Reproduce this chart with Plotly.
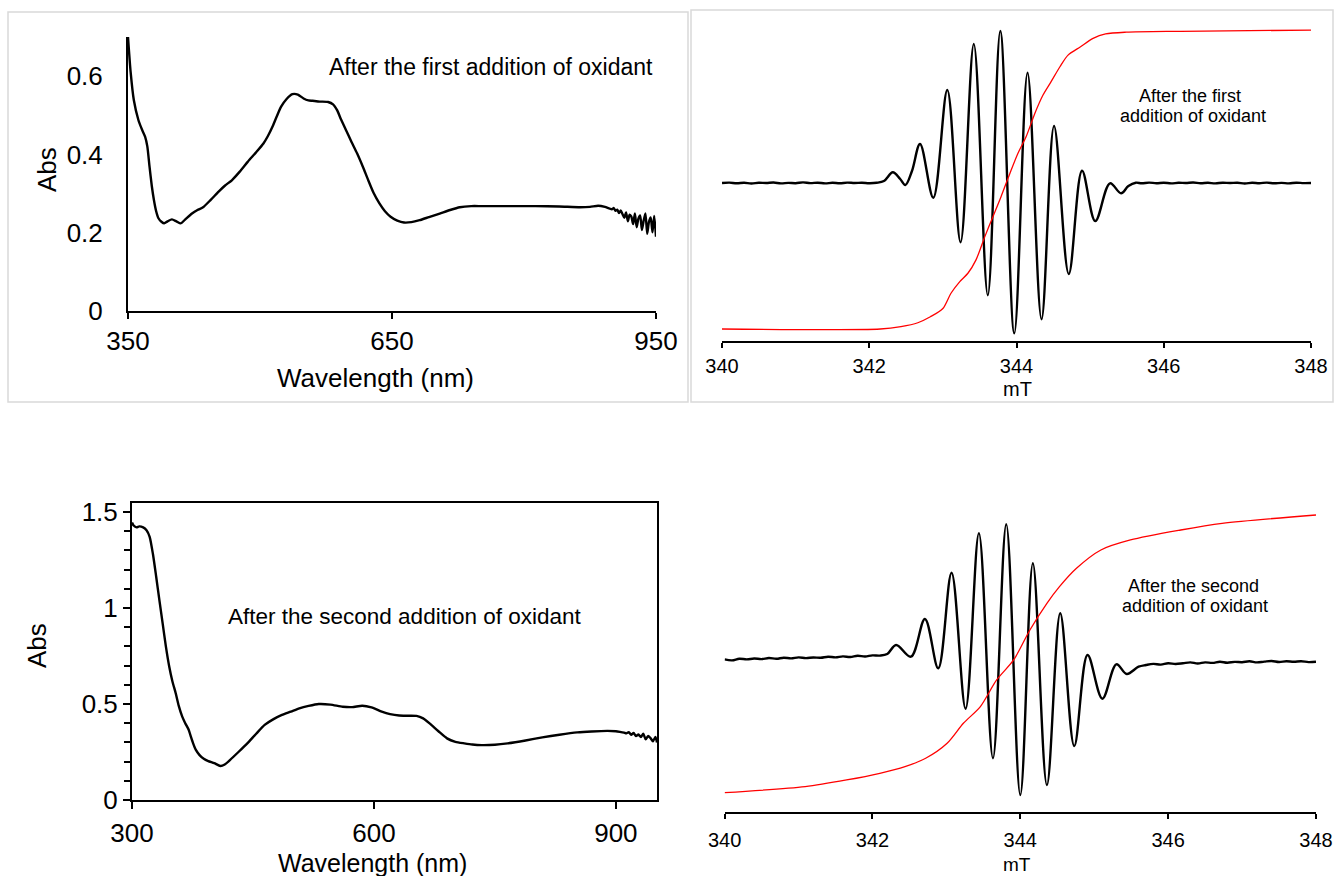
import plotly.graph_objects as go

W, H = 1334, 876

# ---------------- UV-vis, first addition ----------------
uv1_wl = [350, 353, 356.6, 361.8, 366, 369.5, 372, 374.5, 377, 379.5, 382, 384.6, 388, 391.2,
          395, 399.9, 405, 410, 416, 422.7, 429, 435.3, 444, 453, 460, 468, 477, 486, 495,
          503.9, 509, 514, 519, 524, 530, 536.8, 543, 549.5, 555, 559.7, 568, 577.4, 583,
          587.6, 592, 597.8, 604, 610.3, 617, 623, 629, 635.7, 642, 648.4, 656, 663.6, 672,
          681.4, 692, 704.2, 716, 727, 740, 752, 780, 813, 840, 863.7, 875, 884.3, 892, 899.8,
          902, 904, 906, 908, 910, 912, 914, 916, 918, 920, 922, 924, 926, 928, 930, 932, 934,
          936, 938, 940, 942, 944, 946, 948, 950]
uv1_abs = [0.700, 0.610, 0.539, 0.488, 0.463, 0.445, 0.420, 0.368, 0.320, 0.283, 0.255, 0.237,
           0.228, 0.224, 0.229, 0.234, 0.229, 0.224, 0.236, 0.249, 0.258, 0.265, 0.284, 0.305,
           0.320, 0.334, 0.356, 0.381, 0.404, 0.428, 0.447, 0.470, 0.497, 0.522, 0.541, 0.554,
           0.553, 0.543, 0.538, 0.537, 0.535, 0.534, 0.528, 0.513, 0.490, 0.462, 0.432, 0.403,
           0.368, 0.334, 0.302, 0.275, 0.255, 0.241, 0.231, 0.226, 0.227, 0.232, 0.240, 0.249,
           0.258, 0.265, 0.268, 0.268, 0.268, 0.268, 0.267, 0.265, 0.266, 0.269, 0.266, 0.260,
           0.263, 0.256, 0.259, 0.250, 0.257, 0.247, 0.238, 0.252, 0.229, 0.246, 0.241, 0.222,
           0.249, 0.214, 0.236, 0.244, 0.207, 0.231, 0.249, 0.197, 0.228, 0.239, 0.201, 0.243,
           0.190, 0.222, 0.205]

# ---------------- UV-vis, second addition ----------------
uv2_wl = [300, 302, 305.7, 309, 313.8, 318, 321.9, 326, 330, 334, 338, 342, 346.2, 350, 354.2,
          358, 362.3, 366, 370.4, 373, 375.8, 379, 383.8, 389, 394.6, 402, 409.6, 415, 421.4,
          432, 443, 454, 464.5, 475, 486, 497, 507.5, 519, 531.6, 546, 561.3, 573, 585.5, 597,
          609.7, 620, 631.3, 642, 652.8, 661, 669, 680, 690.6, 701, 712, 722, 733.6, 750, 765.8,
          788, 808.8, 830, 852, 870, 889.6, 900, 905, 910, 913, 916, 919, 922, 925, 928, 931,
          934, 937, 940, 943, 946, 949, 951]
uv2_abs = [1.445, 1.430, 1.420, 1.425, 1.420, 1.405, 1.371, 1.280, 1.163, 1.040, 0.920, 0.800,
           0.694, 0.620, 0.556, 0.490, 0.434, 0.400, 0.365, 0.330, 0.295, 0.262, 0.234, 0.215,
           0.203, 0.192, 0.177, 0.185, 0.208, 0.250, 0.295, 0.345, 0.391, 0.420, 0.443, 0.460,
           0.477, 0.490, 0.500, 0.497, 0.486, 0.484, 0.491, 0.482, 0.460, 0.447, 0.440, 0.439,
           0.438, 0.425, 0.399, 0.358, 0.321, 0.303, 0.295, 0.289, 0.286, 0.288, 0.295, 0.310,
           0.326, 0.340, 0.352, 0.357, 0.360, 0.358, 0.355, 0.351, 0.347, 0.353, 0.339, 0.349,
           0.333, 0.341, 0.328, 0.345, 0.316, 0.334, 0.322, 0.306, 0.329, 0.300]

# ---------------- EPR, first addition ----------------
epr1_field = [340.0, 340.1, 340.2, 340.3, 340.4, 340.5, 340.6, 340.7, 340.8, 340.9, 341.0, 341.1,
              341.2, 341.3, 341.4, 341.5, 341.6, 341.7, 341.8, 341.9, 342.0, 342.1, 342.2, 342.32,
              342.42, 342.49, 342.58, 342.69, 342.87, 343.06, 343.24, 343.42, 343.61, 343.78,
              343.97, 344.15, 344.34, 344.51, 344.71, 344.89, 345.07, 345.27, 345.42, 345.52,
              345.62, 345.7, 345.8, 345.9, 346.0, 346.1, 346.2, 346.3, 346.4, 346.5, 346.6,
              346.7, 346.8, 346.9, 347.0, 347.1, 347.2, 347.3, 347.4, 347.5, 347.6, 347.7, 347.8,
              347.9, 348.0]
epr1_signal = [0.0, 0.4, -0.3, 0.2, -0.5, 0.3, 0.0, 0.5, -0.4, 0.1, -0.2, 0.6, -0.1, 0.3, -0.4,
               0.2, -0.3, 0.4, 0.0, 0.3, -0.2, 0.2, 2.0, 10.7, 4.0, -2.0, 12.0, 39.0, -14.7, 93.0,
               -59.3, 139.0, -112.3, 152.0, -150.3, 110.3, -136.3, 57.0, -91.0, 12.3, -38.0, -0.3,
               -10.3, -3.0, 0.3, -0.3, 0.4, -0.2, 0.3, -0.4, 0.2, 0.0, 0.5, -0.3, 0.2, -0.4, 0.3,
               0.0, 0.3, -0.5, 0.2, -0.2, 0.4, -0.3, 0.1, -0.4, 0.3, -0.1, 0.0]
int1_field = [340.0, 342.15, 342.43, 342.66, 342.83, 343.0, 343.11, 343.23, 343.34, 343.45,
              343.57, 343.68, 343.79, 343.91, 344.02, 344.13, 344.25, 344.36, 344.47, 344.59,
              344.7, 344.87, 345.04, 345.21, 345.49, 346.23, 348.0]
int1_value = [0.0, 0.0, 0.008, 0.021, 0.041, 0.069, 0.12, 0.159, 0.187, 0.232, 0.31, 0.377, 0.444,
              0.522, 0.59, 0.645, 0.724, 0.785, 0.83, 0.88, 0.919, 0.947, 0.975, 0.99, 0.996,
              0.999, 1.003]

# ---------------- EPR, second addition ----------------
epr2_field = [340.0, 340.1, 340.2, 340.3, 340.4, 340.5, 340.6, 340.7, 340.8, 340.9, 341.0, 341.1,
              341.2, 341.3, 341.4, 341.5, 341.6, 341.7, 341.8, 341.9, 342.0, 342.1, 342.2, 342.32,
              342.52, 342.71, 342.89, 343.07, 343.26, 343.44, 343.63, 343.81, 344.0, 344.17,
              344.36, 344.54, 344.73, 344.91, 345.11, 345.3, 345.44, 345.6, 345.7, 345.8, 345.9,
              346.0, 346.1, 346.2, 346.3, 346.4, 346.5, 346.6, 346.7, 346.8, 346.9, 347.0, 347.1,
              347.2, 347.3, 347.4, 347.5, 347.6, 347.7, 347.8, 347.9, 348.0]
epr2_signal = [0.7, -0.4, 1.3, 0.6, 1.5, 0.9, 2.0, 1.2, 2.3, 1.6, 2.6, 1.9, 2.5, 2.2, 3.3, 2.6,
               3.6, 3.0, 4.2, 3.5, 4.6, 4.4, 6.0, 15.0, 3.3, 41.0, -8.3, 87.3, -48.7, 126.7, -98.3,
               135.7, -135.0, 96.7, -125.0, 46.7, -86.0, 5.0, -38.7, -4.3, -14.0, -6.7, -5.0, -3.9,
               -4.6, -3.2, -4.0, -3.3, -2.4, -3.5, -2.4, -2.9, -1.7, -2.7, -1.9, -2.2, -1.3, -2.4,
               -1.6, -1.0, -2.0, -1.3, -1.8, -1.2, -2.1, -1.7]
int2_field = [340.0, 341.09, 341.65, 342.1, 342.44, 342.72, 343.01, 343.23, 343.46, 343.68,
              343.91, 344.13, 344.36, 344.53, 344.76, 345.09, 345.49, 346.17, 346.73, 348.0]
int2_value = [0.0, 0.022, 0.046, 0.07, 0.094, 0.124, 0.178, 0.25, 0.31, 0.406, 0.478, 0.586,
              0.682, 0.742, 0.808, 0.874, 0.91, 0.946, 0.97, 1.0]

FONT = "Liberation Sans, Arial, sans-serif"


def fx(px):
    return px / W


def fy(py):
    return 1 - py / H


fig = go.Figure()

black = dict(color="black", width=2.4, shape="spline", smoothing=0.6)
epr_black = dict(color="black", width=2.4, shape="spline", smoothing=1.0)
red = dict(color="red", width=1.3, shape="spline", smoothing=0.8)

fig.add_trace(go.Scatter(x=uv1_wl, y=uv1_abs, mode="lines", line=black, xaxis="x", yaxis="y"))
fig.add_trace(go.Scatter(x=epr1_field, y=epr1_signal, mode="lines", line=epr_black,
                         xaxis="x2", yaxis="y2"))
fig.add_trace(go.Scatter(x=int1_field, y=int1_value, mode="lines", line=red,
                         xaxis="x2", yaxis="y3"))
fig.add_trace(go.Scatter(x=uv2_wl, y=uv2_abs, mode="lines", line=black, xaxis="x4", yaxis="y4"))
fig.add_trace(go.Scatter(x=epr2_field, y=epr2_signal, mode="lines", line=epr_black,
                         xaxis="x5", yaxis="y5"))
fig.add_trace(go.Scatter(x=int2_field, y=int2_value, mode="lines", line=red,
                         xaxis="x5", yaxis="y6"))

axis_common = dict(showgrid=False, zeroline=False, showline=True, linecolor="black",
                   tickcolor="black", color="black", automargin=False)

fig.update_layout(
    width=W, height=H, margin=dict(l=0, r=0, t=0, b=0, autoexpand=False),
    paper_bgcolor="white", plot_bgcolor="rgba(0,0,0,0)", showlegend=False,
    font=dict(family=FONT, color="black"),
    # top-left UV-vis
    xaxis=dict(**axis_common, domain=[fx(128), fx(656)], anchor="y", range=[350, 950],
               tickvals=[350, 650, 950], ticks="outside", ticklen=6, tickwidth=2, linewidth=2,
               tickfont=dict(size=26), ticklabelstandoff=0),
    yaxis=dict(**axis_common, domain=[fy(311), fy(37)], anchor="x", range=[0, 0.7],
               tickvals=[0, 0.2, 0.4, 0.6], ticktext=["0", "0.2", "0.4", "0.6"], ticks="",
               linewidth=2, tickfont=dict(size=26), ticklabelstandoff=18),
    # top-right EPR
    xaxis2=dict(**axis_common, domain=[fx(722), fx(1311)], anchor="y2", range=[340, 348],
                tickvals=[340, 342, 344, 346, 348], ticks="outside", ticklen=5, tickwidth=1.5,
                linewidth=1.5, tickfont=dict(size=20), ticklabelstandoff=1),
    yaxis2=dict(domain=[fy(341), fy(15)], anchor="x2", range=[-158, 168], visible=False,
                automargin=False),
    yaxis3=dict(domain=[fy(341), fy(15)], anchor="x2", overlaying="y2",
                range=[-12 / 298, 314 / 298], visible=False, automargin=False),
    # bottom-left UV-vis
    xaxis4=dict(**axis_common, domain=[fx(132), fx(657)], anchor="y4", range=[300, 951],
                tickvals=[300, 600, 900], ticks="outside", ticklen=7, tickwidth=2, linewidth=2,
                mirror=True, tickfont=dict(size=26), ticklabelstandoff=2),
    yaxis4=dict(**axis_common, domain=[fy(800), fy(503)], anchor="x4", range=[0, 1.547],
                tickvals=[0, 0.5, 1, 1.5], ticktext=["0", "0.5", "1", "1.5"], ticks="outside",
                ticklen=7, tickwidth=2, linewidth=2, mirror=True, tickfont=dict(size=26),
                minor=dict(dtick=0.1, ticks="outside", ticklen=6, tickwidth=2, tickcolor="black")),
    # bottom-right EPR
    xaxis5=dict(**axis_common, domain=[fx(724.6), fx(1316)], anchor="y5", range=[340, 348],
                tickvals=[340, 342, 344, 346, 348], ticks="outside", ticklen=5, tickwidth=1.5,
                linewidth=1.5, tickfont=dict(size=20), ticklabelstandoff=4),
    yaxis5=dict(domain=[fy(812), fy(495)], anchor="x5", range=[-152, 165], visible=False,
                automargin=False),
    yaxis6=dict(domain=[fy(812), fy(495)], anchor="x5", overlaying="y5",
                range=[-19.3 / 277.7, 297.7 / 277.7], visible=False, automargin=False),
)

# light frames around the two upper panels
frame = dict(type="rect", xref="paper", yref="paper", line=dict(color="#d9d9d9", width=1.5),
             fillcolor="rgba(0,0,0,0)", layer="below")
fig.add_shape(**frame, x0=fx(8), x1=fx(688), y0=fy(402), y1=fy(12))
fig.add_shape(**frame, x0=fx(691), x1=fx(1333), y0=fy(402), y1=fy(10))


def note(text, px, py, size, angle=0):
    fig.add_annotation(text=text, x=fx(px), y=fy(py), xref="paper", yref="paper",
                       showarrow=False, font=dict(size=size, family=FONT, color="black"),
                       xanchor="center", yanchor="middle", textangle=angle)


note("Abs", 47, 170, 26, -90)
note("Wavelength (nm)", 375, 378, 26)
note("After the first addition of oxidant", 491, 67, 23)
note("mT", 1017, 389, 20)
note("After the first", 1190, 96, 18)
note("addition of oxidant", 1193, 116, 18)
note("Abs", 37, 646, 26, -90)
note("Wavelength (nm)", 372, 863, 25)
note("After the second addition of oxidant", 404, 616, 22.5)
note("mT", 1017, 864, 19)
note("After the second", 1193, 586, 18)
note("addition of oxidant", 1195, 606, 18)

fig.write_html("out.html")
